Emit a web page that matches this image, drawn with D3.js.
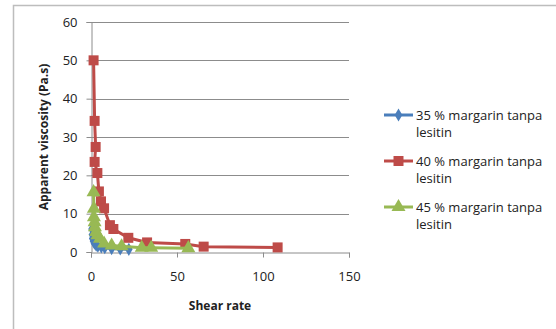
<!DOCTYPE html>
<html><head><meta charset="utf-8">
<script src="https://cdn.jsdelivr.net/npm/d3@7"></script>
<style>body{margin:0;background:#fff}svg{display:block}</style>
</head><body><svg id="c" width="556" height="329"></svg>
<script>
const xTicks = [0, 50, 100, 150];
const yTicks = [0, 10, 20, 30, 40, 50, 60];
const seriesNames = ["35 % margarin tanpa lesitin", "40 % margarin tanpa lesitin", "45 % margarin tanpa lesitin"];
const blueX = [0.6, 0.8, 1.0, 1.5, 2.0, 3.0, 4.0, 6.0, 8.0, 12, 17, 22];
const blueY = [6.0, 4.5, 3.5, 2.8, 2.3, 1.8, 1.5, 1.3, 1.1, 0.9, 0.8, 0.7];
const redX = [1.5, 2.1, 2.7, 2.1, 3.7, 4.6, 5.8, 7.6, 11, 13, 21.7, 32.6, 54.8, 65.5, 108.5];
const redY = [50, 34.2, 27.4, 23.5, 20.6, 15.8, 13.2, 11.4, 7.0, 6.0, 3.7, 2.5, 2.1, 1.4, 1.2];
const greenX = [1.5, 1.7, 1.7, 2.1, 2.3, 2.9, 3.7, 5.2, 7.6, 12, 17.8, 29.5, 35, 56.6];
const greenY = [15.6, 11.3, 9.1, 7.8, 6.5, 5.2, 4.4, 3.5, 2.2, 1.7, 1.5, 1.1, 1.1, 1.0];
const colors = ["#4A7EBB", "#BE4B48", "#98B954"];

const svg = d3.select("#c");
const font = "'Open Sans', 'Liberation Sans', sans-serif";
// outer border
svg.append("rect").attr("x", 13.5).attr("y", 5.5).attr("width", 560).attr("height", 340)
  .attr("fill", "none").attr("stroke", "#BDBDBD").attr("stroke-width", 1.5);

const x = d3.scaleLinear().domain([0, 150]).range([91, 349]);
const y = d3.scaleLinear().domain([0, 60]).range([252, 22]);

// gridlines
svg.append("g").selectAll("line").data(yTicks.filter(d => d > 0)).join("line")
  .attr("x1", x(0)).attr("x2", x(150)).attr("y1", d => Math.round(y(d)) + 0.5).attr("y2", d => Math.round(y(d)) + 0.5)
  .attr("stroke", "#8C8C8C").attr("stroke-width", 1);

const yAxis = svg.append("g").attr("transform", `translate(${x(0) + 0.5},0)`)
  .call(d3.axisLeft(y).tickValues(yTicks).tickSize(5).tickPadding(9));
const xAxis = svg.append("g").attr("transform", `translate(0,${y(0) + 0.5})`)
  .call(d3.axisBottom(x).tickValues(xTicks).tickSize(5).tickPadding(14));
[yAxis, xAxis].forEach(a => {
  a.select(".domain").attr("stroke", "#8C8C8C");
  a.selectAll(".tick line").attr("stroke", "#8C8C8C");
  a.selectAll(".tick text").attr("fill", "#222").attr("font-size", 13).attr("font-family", font);
});

svg.append("text").attr("x", 220).attr("y", 310).attr("text-anchor", "middle")
  .attr("font-family", font).attr("font-size", 12).attr("font-weight", "bold").attr("fill", "#222").text("Shear rate");
svg.append("text").attr("transform", "translate(48,137) rotate(-90)").attr("text-anchor", "middle")
  .attr("font-family", font).attr("font-size", 12).attr("font-weight", "bold").attr("fill", "#222").text("Apparent viscosity (Pa.s)");

const data = [
  blueX.map((v, i) => [v, blueY[i]]),
  redX.map((v, i) => [v, redY[i]]),
  greenX.map((v, i) => [v, greenY[i]])
];
const symbols = [d3.symbolDiamond, d3.symbolSquare, d3.symbolTriangle];
const sizes = [50, 100, 85];
const line = d3.line().x(d => x(d[0])).y(d => y(d[1]));
data.forEach((s, i) => {
  const g = svg.append("g");
  g.append("path").attr("d", line(s)).attr("fill", "none").attr("stroke", colors[i]).attr("stroke-width", 3);
  g.selectAll("path.m").data(s).join("path").attr("class", "m")
    .attr("transform", d => `translate(${x(d[0])},${y(d[1])})`)
    .attr("d", d3.symbol().type(symbols[i]).size(sizes[i])).attr("fill", colors[i]);
});

// legend
const legY = [115, 161, 207];
seriesNames.forEach((name, i) => {
  const g = svg.append("g").attr("transform", `translate(0,${legY[i]})`);
  g.append("line").attr("x1", 384).attr("x2", 413).attr("y1", 0).attr("y2", 0).attr("stroke", colors[i]).attr("stroke-width", 3);
  g.append("path").attr("transform", "translate(398.5,0)").attr("d", d3.symbol().type(symbols[i]).size(sizes[i])).attr("fill", colors[i]);
  const words = name.split(" ");
  g.append("text").attr("x", 416).attr("y", 4.5).attr("font-family", font).attr("font-size", 13).attr("fill", "#222")
    .text(words.slice(0, 4).join(" "));
  g.append("text").attr("x", 416).attr("y", 21.5).attr("font-family", font).attr("font-size", 13).attr("fill", "#222")
    .text(words.slice(4).join(" "));
});
</script></body></html>
